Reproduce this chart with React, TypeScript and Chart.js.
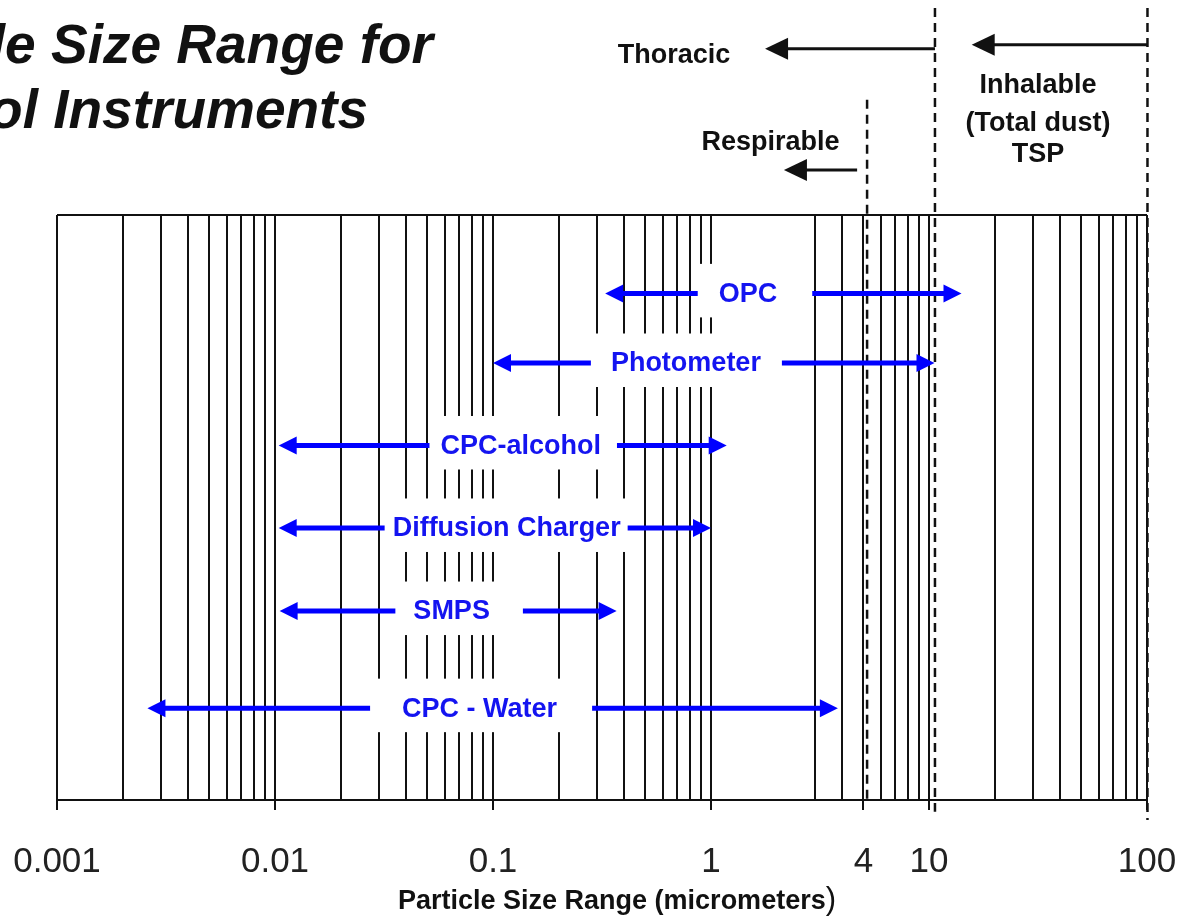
import React, { useEffect, useRef } from 'react';
import { Chart, registerables } from 'chart.js';

Chart.register(...registerables);

// ---- Axis: gridlines (every log-decade subdivision drawn in the figure) and tick labels
const GRID_VALUES = [
  0.001, 0.002, 0.003, 0.004, 0.005, 0.006, 0.007, 0.008, 0.009,
  0.01, 0.02, 0.03, 0.04, 0.05, 0.06, 0.07, 0.08, 0.09,
  0.1, 0.2, 0.3, 0.4, 0.5, 0.6, 0.7, 0.8, 0.9,
  1, 3, 4, 5, 6, 7, 8, 9,
  10, 20, 30, 40, 50, 60, 70, 80, 90, 100,
];
// in the figure the "4" label sits on the 5 gridline
const TICK_VALUES = [0.001, 0.01, 0.1, 1, 5, 10, 100];
const TICK_LABELS = ['0.001', '0.01', '0.1', '1', '4', '10', '100'];

// ---- Instruments (size ranges in micrometers), row = vertical slot 0 (top) .. 100 (bottom)
const INSTRUMENTS = ['OPC', 'Photometer', 'CPC-alcohol', 'Diffusion Charger', 'SMPS', 'CPC - Water'];
const SIZE_MIN = [0.327, 0.1, 0.0104, 0.0104, 0.0105, 0.0026];
const SIZE_MAX = [14.1, 10.6, 1.18, 1.0, 0.369, 3.82];
const ROW = [13.4, 25.3, 39.4, 53.5, 67.7, 84.3];
const LABEL_AT = [1.478, 0.767, 0.134, 0.1155, 0.0646, 0.0868];

// ---- Size-selective fractions (dashed cut lines and arrows above the plot)
const CUT_NAMES = ['Respirable', 'Thoracic', 'TSP'];
const CUT_SIZE = [5.2, 10.65, 100.5];
const CUT_TOP = [-19.7, -35.4, -35.4];
const CUT_BOTTOM = [100, 102, 103.4];
const CUT_ARROW_FROM = [4.68, 10.65, 100.5];
const CUT_ARROW_TO = [2.16, 1.77, 15.7];
const CUT_ARROW_ROW = [-7.7, -28.4, -29.1];

const TOP_TEXT = ['Thoracic', 'Respirable', 'Inhalable', '(Total dust)', 'TSP'];
const TOP_TEXT_X = [0.676, 1.875, 31.6, 31.6, 31.6];
const TOP_TEXT_Y = [-27.2, -12.4, -22.1, -15.7, -10.3];

const TITLE_LINES = ['Particle Size Range for', 'Aerosol Instruments'];
const AXIS_TITLE = 'Particle Size Range (micrometers';

// ---- styles
const FONT = '"Liberation Sans", Arial, Helvetica, sans-serif';
const BLUE = '#0000ff';
const BLUE_TEXT = '#1414f0';
const INK = '#111111';
const LABEL_PAD = [[21, 35], [20, 21], [11, 16], [8, 7], [18, 33], [32, 35]];

function drawHead(ctx: CanvasRenderingContext2D, x: number, y: number, dir: number, len: number, half: number, color: string) {
  ctx.beginPath();
  ctx.moveTo(x, y);
  ctx.lineTo(x - dir * len, y - half);
  ctx.lineTo(x - dir * len, y + half);
  ctx.closePath();
  ctx.fillStyle = color;
  ctx.fill();
}

export default function App() {
  const canvasRef = useRef<HTMLCanvasElement | null>(null);

  useEffect(() => {
    const canvas = canvasRef.current;
    if (!canvas) return;

    const datasets: any[] = [];
    INSTRUMENTS.forEach((name, i) => {
      datasets.push({
        label: name,
        data: [{ x: SIZE_MIN[i], y: ROW[i] }, { x: SIZE_MAX[i], y: ROW[i] }],
        borderColor: BLUE,
        borderWidth: 5,
        pointRadius: 0,
        clip: false,
        head: { start: true, end: true, len: 18, half: 9, color: BLUE },
      });
    });
    CUT_NAMES.forEach((name, i) => {
      datasets.push({
        label: name + ' cut',
        data: [{ x: CUT_SIZE[i], y: CUT_TOP[i] }, { x: CUT_SIZE[i], y: CUT_BOTTOM[i] }],
        borderColor: INK,
        borderWidth: 2.5,
        borderDash: [9, 6],
        pointRadius: 0,
        clip: false,
      });
      datasets.push({
        label: name + ' arrow',
        data: [{ x: CUT_ARROW_FROM[i], y: CUT_ARROW_ROW[i] }, { x: CUT_ARROW_TO[i], y: CUT_ARROW_ROW[i] }],
        borderColor: INK,
        borderWidth: 3,
        pointRadius: 0,
        clip: false,
        head: { start: false, end: true, len: 23, half: 11, color: INK },
      });
    });

    const tips = new Map<number, { x: number; y: number; dir: number }[]>();

    const annot = {
      id: 'annot',
      afterDatasetsUpdate(chart: any) {
        chart.data.datasets.forEach((ds: any, i: number) => {
          const h = ds.head;
          if (!h) return;
          const pts = chart.getDatasetMeta(i).data;
          const a = pts[0];
          const b = pts[pts.length - 1];
          const dirA = Math.sign(a.x - b.x);
          const dirB = Math.sign(b.x - a.x);
          const list: { x: number; y: number; dir: number }[] = [];
          if (h.start) list.push({ x: a.x, y: a.y, dir: dirA });
          if (h.end) list.push({ x: b.x, y: b.y, dir: dirB });
          tips.set(i, list);
          if (h.start) a.x -= dirA * h.len * 0.7;
          if (h.end) b.x -= dirB * h.len * 0.7;
        });
      },
      afterDatasetsDraw(chart: any) {
        const ctx: CanvasRenderingContext2D = chart.ctx;
        const xs = chart.scales.x;
        const ys = chart.scales.y;
        const ca = chart.chartArea;
        ctx.save();

        // white label boxes + blue labels
        ctx.font = `bold 27px ${FONT}`;
        ctx.textAlign = 'center';
        ctx.textBaseline = 'middle';
        INSTRUMENTS.forEach((name, i) => {
          const cx = xs.getPixelForValue(LABEL_AT[i]);
          const cy = ys.getPixelForValue(ROW[i]);
          const w = ctx.measureText(name).width;
          const [pl, pr] = LABEL_PAD[i];
          ctx.fillStyle = '#ffffff';
          ctx.fillRect(cx - w / 2 - pl, cy - 29.5, w + pl + pr, 53.5);
          ctx.fillStyle = BLUE_TEXT;
          ctx.fillText(name, cx, cy + 1);
        });

        // arrow heads
        chart.data.datasets.forEach((ds: any, i: number) => {
          const h = ds.head;
          if (!h) return;
          (tips.get(i) || []).forEach((t) => drawHead(ctx, t.x, t.y, t.dir, h.len, h.half, h.color));
        });

        // top border of the plot frame
        ctx.strokeStyle = INK;
        ctx.lineWidth = 2;
        ctx.beginPath();
        ctx.moveTo(ca.left, ca.top);
        ctx.lineTo(ca.right, ca.top);
        ctx.stroke();

        // fraction names
        ctx.fillStyle = INK;
        ctx.font = `bold 27px ${FONT}`;
        TOP_TEXT.forEach((t, i) => {
          ctx.fillText(t, xs.getPixelForValue(TOP_TEXT_X[i]), ys.getPixelForValue(TOP_TEXT_Y[i]));
        });

        // chart title (cut off at the left edge in the figure)
        ctx.font = `italic bold 55px ${FONT}`;
        ctx.textAlign = 'right';
        ctx.textBaseline = 'alphabetic';
        ctx.fillText(TITLE_LINES[0], 433, 63);
        ctx.fillText(TITLE_LINES[1], 368, 128);

        // axis title
        ctx.textAlign = 'left';
        ctx.textBaseline = 'middle';
        ctx.font = `bold 27px ${FONT}`;
        const tw = ctx.measureText(AXIS_TITLE).width;
        ctx.fillText(AXIS_TITLE, 398, 902);
        ctx.font = `31px ${FONT}`;
        ctx.fillText(')', 398 + tw, 900);

        ctx.restore();
      },
    };

    const isMajor = (v: any) => TICK_VALUES.indexOf(v) >= 0;

    const chart = new Chart(canvas, {
      type: 'line',
      data: { datasets },
      options: {
        animation: false,
        responsive: false,
        events: [],
        layout: { padding: { left: 57, right: 37, top: 215, bottom: 0 } },
        plugins: { legend: { display: false }, tooltip: { enabled: false }, title: { display: false } },
        scales: {
          x: {
            type: 'logarithmic',
            position: 'bottom',
            min: 0.001,
            max: 100,
            afterBuildTicks: (s: any) => {
              s.ticks = GRID_VALUES.map((v) => ({ value: v, major: isMajor(v) }));
            },
            afterFit: (s: any) => {
              s.height = 118;
              s.paddingLeft = 0;
              s.paddingRight = 0;
            },
            grid: {
              color: INK,
              lineWidth: 2,
              drawOnChartArea: true,
              drawTicks: true,
              tickLength: 10,
              tickWidth: 2,
              tickColor: (c: any) => (c.tick && isMajor(c.tick.value) ? INK : 'rgba(0,0,0,0)'),
            },
            border: { display: true, color: INK, width: 2 },
            ticks: {
              autoSkip: false,
              maxRotation: 0,
              minRotation: 0,
              padding: 31,
              color: '#222222',
              font: { family: FONT, size: 35 },
              callback: (v: any) => {
                const k = TICK_VALUES.indexOf(v);
                return k >= 0 ? TICK_LABELS[k] : '';
              },
            },
          },
          y: { type: 'linear', min: 0, max: 100, reverse: true, display: false },
        },
      },
      plugins: [annot],
    } as any);

    return () => chart.destroy();
  }, []);

  return (
    <div style={{ position: 'fixed', left: 0, top: 0, width: 1184, height: 918, background: '#ffffff' }}>
      <canvas ref={canvasRef} width={1184} height={918} style={{ display: 'block' }} />
    </div>
  );
}
